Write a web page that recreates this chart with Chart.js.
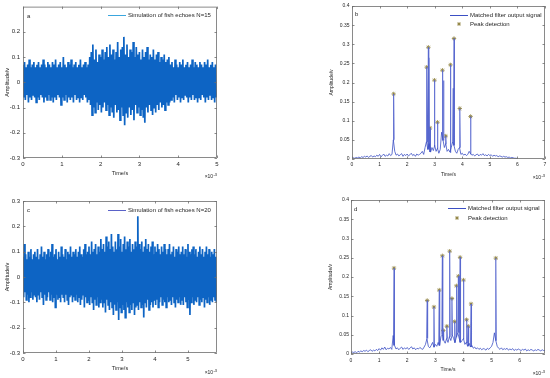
<!DOCTYPE html>
<html>
<head>
<meta charset="utf-8">
<script src="https://cdn.jsdelivr.net/npm/chart.js@4.4.0/dist/chart.umd.min.js"></script>
<style>
html, body { margin: 0; padding: 0; background: #fff; }
#wrap { position: relative; width: 550px; height: 378px; overflow: hidden; }
canvas { position: absolute; }
</style>
</head>
<body>
<div id="wrap">
  <canvas id="pa" style="left:0;top:0;width:275px;height:185px" width="275" height="185"></canvas>
  <canvas id="pb" style="left:275px;top:0;width:275px;height:185px" width="275" height="185"></canvas>
  <canvas id="pc" style="left:0;top:185px;width:275px;height:193px" width="275" height="193"></canvas>
  <canvas id="pd" style="left:275px;top:185px;width:275px;height:193px" width="275" height="193"></canvas>
</div>
<script>
// time axis in ms (shown as x10^-3 s)

// panel a: fish echoes N=15, upper / lower swing of each 0.04 ms sample pair
const stepA = 0.04;
const upperA = [
  0.07,0.08,0.06,0.07,0.09,0.06,0.07,0.08,0.06,0.07,
  0.08,0.06,0.07,0.09,0.07,0.06,0.08,0.07,0.06,0.08,
  0.07,0.09,0.06,0.07,0.08,0.06,0.10,0.07,0.06,0.08,
  0.07,0.09,0.06,0.07,0.08,0.06,0.07,0.09,0.06,0.07,
  0.08,0.06,0.07,
  0.10,0.12,0.15,0.09,0.13,0.08,0.11,0.10,0.13,0.09,
  0.12,0.14,0.10,0.15,0.11,0.13,0.09,0.12,0.16,0.10,
  0.13,0.14,0.18,0.11,0.15,0.10,0.13,0.12,0.16,0.10,
  0.14,0.11,0.12,0.09,0.13,0.10,0.12,0.14,0.09,0.11,
  0.10,0.13,0.09,0.11,0.12,0.08,0.10,0.09,0.11,0.08,
  0.09,0.10,
  0.07,0.08,0.06,0.09,0.07,0.06,0.08,0.07,0.09,0.06,
  0.07,0.08,0.06,0.07,0.09,0.06,0.08,0.07,0.06,0.08,
  0.07,0.06,0.08,0.07,0.09,0.06,0.07,0.08,0.06,0.07
];
const lowerA = [
  -0.06,-0.07,-0.05,-0.08,-0.06,-0.07,-0.05,-0.06,-0.08,-0.06,
  -0.07,-0.05,-0.06,-0.08,-0.06,-0.07,-0.05,-0.07,-0.06,-0.08,
  -0.06,-0.07,-0.05,-0.06,-0.09,-0.06,-0.07,-0.05,-0.08,-0.06,
  -0.07,-0.06,-0.08,-0.05,-0.07,-0.06,-0.08,-0.06,-0.07,-0.05,
  -0.06,-0.08,-0.07,
  -0.09,-0.13,-0.10,-0.12,-0.08,-0.11,-0.09,-0.12,-0.10,-0.08,
  -0.11,-0.09,-0.13,-0.10,-0.12,-0.14,-0.09,-0.12,-0.11,-0.15,
  -0.10,-0.13,-0.17,-0.12,-0.14,-0.10,-0.13,-0.11,-0.15,-0.09,
  -0.12,-0.10,-0.13,-0.11,-0.14,-0.16,-0.10,-0.12,-0.09,-0.11,
  -0.13,-0.10,-0.12,-0.09,-0.11,-0.08,-0.10,-0.09,-0.11,-0.08,
  -0.09,-0.08,
  -0.07,-0.06,-0.08,-0.05,-0.07,-0.06,-0.08,-0.06,-0.07,-0.05,
  -0.06,-0.08,-0.06,-0.07,-0.05,-0.07,-0.06,-0.08,-0.06,-0.07,
  -0.05,-0.06,-0.08,-0.06,-0.07,-0.05,-0.07,-0.06,-0.08,-0.06
];

// panel c: fish echoes N=20
const stepC = 0.04;
const upperC = [
  0.08,0.13,0.09,0.07,0.10,0.08,0.11,0.07,0.09,0.10,
  0.08,0.11,0.07,0.09,0.12,0.08,0.10,0.07,0.09,0.11,
  0.08,0.10,0.13,0.08,0.09,0.11,0.07,0.10,0.08,0.12,
  0.09,0.08,0.11,0.07,0.10,0.09,0.12,0.08,0.10,0.09,
  0.11,0.08,0.10,0.12,0.09,0.08,0.11,0.13,0.09,0.10,
  0.12,0.09,0.14,0.10,0.11,0.13,0.09,0.12,0.10,0.15,
  0.11,0.13,0.10,0.16,0.12,0.14,0.11,0.17,0.12,0.10,
  0.14,0.11,0.17,0.12,0.15,0.10,0.13,0.16,0.11,0.14,
  0.12,0.15,0.10,0.13,0.11,0.14,0.12,0.24,0.13,0.11,
  0.14,0.10,0.12,0.15,0.11,0.13,0.10,0.12,0.14,0.09,
  0.12,0.10,0.13,0.11,0.09,0.12,0.10,0.13,0.11,0.09,
  0.11,0.13,0.09,0.10,0.12,0.08,0.11,0.10,0.12,0.09,
  0.10,0.12,0.09,0.11,0.08,0.13,0.10,0.09,0.11,0.12,
  0.09,0.11,0.08,0.10,0.12,0.09,0.11,0.08,0.10,0.12,
  0.09,0.11,0.08,0.10,0.09,0.11,0.08
];
const lowerC = [
  -0.08,-0.06,-0.09,-0.07,-0.10,-0.08,-0.06,-0.09,-0.07,-0.08,
  -0.10,-0.07,-0.09,-0.06,-0.08,-0.11,-0.07,-0.09,-0.08,-0.06,
  -0.09,-0.07,-0.10,-0.08,-0.12,-0.07,-0.09,-0.08,-0.10,-0.07,
  -0.08,-0.10,-0.07,-0.09,-0.11,-0.08,-0.07,-0.10,-0.08,-0.09,
  -0.07,-0.10,-0.08,-0.11,-0.09,-0.07,-0.12,-0.08,-0.10,-0.09,
  -0.11,-0.08,-0.10,-0.13,-0.09,-0.11,-0.08,-0.12,-0.10,-0.09,
  -0.12,-0.10,-0.14,-0.09,-0.11,-0.13,-0.10,-0.12,-0.15,-0.11,
  -0.13,-0.10,-0.17,-0.12,-0.14,-0.11,-0.13,-0.16,-0.10,-0.12,
  -0.14,-0.11,-0.13,-0.10,-0.15,-0.12,-0.11,-0.13,-0.10,-0.12,
  -0.11,-0.16,-0.10,-0.12,-0.09,-0.13,-0.11,-0.10,-0.12,-0.09,
  -0.11,-0.09,-0.12,-0.10,-0.08,-0.11,-0.09,-0.10,-0.12,-0.08,
  -0.10,-0.09,-0.11,-0.08,-0.10,-0.12,-0.09,-0.10,-0.08,-0.11,
  -0.09,-0.11,-0.08,-0.10,-0.12,-0.09,-0.15,-0.10,-0.08,-0.11,
  -0.09,-0.10,-0.08,-0.11,-0.09,-0.10,-0.08,-0.12,-0.09,-0.10,
  -0.08,-0.11,-0.09,-0.10,-0.08,-0.09,-0.10
];

// panel b: matched filter output (N=15), floor sampled every 0.05 ms
const stepB = 0.05;
const floorB = [
  0.002,0.003,0.002,0.004,0.003,0.005,0.003,0.006,0.004,0.007,
  0.005,0.008,0.004,0.007,0.009,0.005,0.008,0.006,0.010,0.007,
  0.012,0.006,0.009,0.013,0.007,0.010,0.008,0.014,0.009,0.012,
  0.050,0.020,0.010,0.013,0.008,0.011,0.014,0.007,0.012,0.009,
  0.013,0.008,0.011,0.015,0.009,0.012,0.007,0.013,0.010,0.012,
  0.015,0.020,0.012,0.030,0.045,0.025,0.040,0.018,0.030,0.022,
  0.035,0.020,0.028,0.015,0.025,0.070,0.050,0.030,0.040,0.020,
  0.025,0.018,0.030,0.045,0.035,0.020,0.015,0.025,0.030,0.012,
  0.015,0.010,0.013,0.009,0.012,0.020,0.014,0.010,0.012,0.008,
  0.011,0.013,0.008,0.012,0.010,0.014,0.009,0.011,0.008,0.012,
  0.009,0.011,0.007,0.010,0.008,0.009,0.006,0.008,0.007,0.005,
  0.007,0.005,0.006,0.004,0.005,0.003,0.004,0.003,0.002,0.002,
  0.001
];
const peakTimeB = [1.51, 2.71, 2.77, 2.83, 2.99, 3.10, 3.28, 3.40, 3.57, 3.70, 3.91, 4.30];
const peakAmpB  = [0.170, 0.240, 0.292, 0.081, 0.206, 0.096, 0.232, 0.060, 0.246, 0.315, 0.132, 0.111];
const sideTimeB = [2.79, 3.32, 3.67];
const sideAmpB  = [0.265, 0.205, 0.185];

// panel d: matched filter output (N=20)
const stepD = 0.05;
const floorD = [
  0.003,0.005,0.004,0.006,0.003,0.007,0.005,0.008,0.006,0.009,
  0.007,0.010,0.006,0.009,0.011,0.007,0.010,0.008,0.012,0.009,
  0.014,0.010,0.016,0.012,0.018,0.011,0.015,0.013,0.017,0.012,
  0.048,0.022,0.013,0.016,0.011,0.015,0.018,0.012,0.016,0.013,
  0.017,0.012,0.015,0.019,0.013,0.016,0.011,0.015,0.013,0.017,
  0.014,0.012,0.018,0.025,0.040,0.020,0.016,0.022,0.030,0.018,
  0.025,0.020,0.030,0.022,0.045,0.050,0.035,0.028,0.040,0.030,
  0.045,0.035,0.050,0.040,0.030,0.045,0.055,0.040,0.030,0.035,
  0.040,0.025,0.030,0.020,0.028,0.018,0.022,0.015,0.018,0.013,
  0.016,0.012,0.015,0.011,0.014,0.013,0.010,0.015,0.012,0.016,
  0.020,0.030,0.055,0.035,0.020,0.015,0.012,0.016,0.011,0.014,
  0.012,0.015,0.010,0.013,0.011,0.014,0.009,0.012,0.010,0.013,
  0.011,0.009,0.012,0.010,0.013,0.008,0.011,0.009,0.012,0.010,
  0.008,0.011,0.009,0.012,0.010,0.008,0.011,0.009,0.009
];
const peakTimeD = [1.53, 2.71, 2.95, 3.14, 3.25, 3.28, 3.41, 3.51, 3.59, 3.69, 3.75, 3.82, 3.88, 4.00, 4.11, 4.17, 4.27, 5.15];
const peakAmpD  = [0.223, 0.139, 0.122, 0.166, 0.255, 0.061, 0.072, 0.267, 0.144, 0.084, 0.177, 0.202, 0.251, 0.192, 0.089, 0.072, 0.130, 0.249];

// tick labels
const xTicksA = [0, 1, 2, 3, 4, 5];
const yTicksA = [-0.3, -0.2, -0.1, 0, 0.1, 0.2];
const xTicksB = [0, 1, 2, 3, 4, 5, 6, 7];
const yTicksB = [0, 0.05, 0.1, 0.15, 0.2, 0.25, 0.3, 0.35, 0.4];
const xTicksC = [0, 1, 2, 3, 4, 5];
const yTicksC = [-0.3, -0.2, -0.1, 0, 0.1, 0.2, 0.3];
const xTicksD = [0, 1, 2, 3, 4, 5, 6];
const yTicksD = [0, 0.05, 0.1, 0.15, 0.2, 0.25, 0.3, 0.35, 0.4];

const FONT = '"Liberation Sans", Arial, sans-serif';
const AXIS = '#6e6e6e';
const TEXT = '#262626';
const ECHO = '#0d64c4';
const MF = '#3b4fc4';
const STEM = '#5868cf';
const STAR = '#8d7f3a';

// alternate each sample's positive and negative swing
const zigzag = (step, upper, lower) => {
    const pts = [];
    upper.forEach((u, i) => {
        pts.push({ x: i * step, y: u });
        pts.push({ x: i * step + step / 2, y: lower[i] });
    });
    return pts;
};

const floorLine = (step, floor) => floor.map((v, i) => ({ x: i * step, y: v }));

// each peak as a thin spike standing on the floor value at that time
const spikes = (times, amps, step, floor) => {
    const pts = [];
    times.forEach((t, i) => {
        const base = floor[Math.round(t / step)];
        pts.push({ x: t - 0.015, y: base }, { x: t, y: amps[i] }, { x: t + 0.015, y: base }, { x: t + 0.015, y: null });
    });
    return pts;
};

// box, inward ticks, panel letter, legend and exponent label
const decor = {
    id: 'decor',
    afterDatasetsDraw(chart, args, o) {
        const { ctx, chartArea: a, scales: { x, y } } = chart;
        ctx.save();
        ctx.strokeStyle = AXIS;
        ctx.lineWidth = 0.8;
        ctx.strokeRect(a.left + 0.5, a.top + 0.5, a.right - a.left - 1, a.bottom - a.top - 1);
        ctx.beginPath();
        x.ticks.forEach(t => {
            const px = Math.round(x.getPixelForValue(t.value)) + 0.5;
            ctx.moveTo(px, a.bottom); ctx.lineTo(px, a.bottom - 2.5);
            ctx.moveTo(px, a.top); ctx.lineTo(px, a.top + 2.5);
        });
        y.ticks.forEach(t => {
            const py = Math.round(y.getPixelForValue(t.value)) + 0.5;
            ctx.moveTo(a.left, py); ctx.lineTo(a.left + 2.5, py);
            ctx.moveTo(a.right, py); ctx.lineTo(a.right - 2.5, py);
        });
        ctx.stroke();

        ctx.fillStyle = TEXT;
        ctx.textBaseline = 'middle';
        ctx.font = `6px ${FONT}`;
        ctx.textAlign = 'left';
        ctx.fillText(o.letter, o.letterX, o.letterY);

        // legend
        let ly = o.legY;
        chart.data.datasets.forEach(ds => {
            if (!ds.label) return;
            if (ds.showLine === false) {
                const cx = o.legX + 9, r = 2;
                ctx.strokeStyle = ds.borderColor;
                ctx.lineWidth = 0.8;
                ctx.beginPath();
                for (let k = 0; k < 4; k++) {
                    const ang = k * Math.PI / 4;
                    ctx.moveTo(cx - r * Math.cos(ang), ly - r * Math.sin(ang));
                    ctx.lineTo(cx + r * Math.cos(ang), ly + r * Math.sin(ang));
                }
                ctx.stroke();
            } else {
                ctx.strokeStyle = ds.legendColor || ds.borderColor;
                ctx.lineWidth = 1;
                ctx.beginPath();
                ctx.moveTo(o.legX, ly + 0.5); ctx.lineTo(o.legX + 18, ly + 0.5);
                ctx.stroke();
            }
            ctx.fillStyle = TEXT;
            ctx.font = `6px ${FONT}`;
            ctx.fillText(ds.label, o.legX + 20, ly);
            ly += o.legRow;
        });

        // x10^-3
        ctx.fillStyle = TEXT;
        ctx.font = `4px ${FONT}`;
        const supW = ctx.measureText('-3').width;
        ctx.textAlign = 'right';
        ctx.fillText('-3', a.right, o.expY - 2);
        ctx.font = `5px ${FONT}`;
        ctx.fillText('\u00d710', a.right - supW - 0.3, o.expY);
        ctx.restore();
    }
};

const makePanel = (id, p) => {
    const fmt = v => String(Math.round(v * 1000) / 1000);
    new Chart(document.getElementById(id), {
        type: 'line',
        data: { datasets: p.datasets },
        options: {
            responsive: false,
            animation: false,
            devicePixelRatio: 1,
            layout: { padding: p.pad },
            plugins: { legend: { display: false }, tooltip: { enabled: false }, decor: p.decor },
            elements: { point: { radius: 0 }, line: { tension: 0 } },
            scales: {
                x: {
                    type: 'linear', min: 0, max: p.xMax,
                    afterBuildTicks: s => { s.ticks = p.xTicks.map(v => ({ value: v })); },
                    afterFit: s => { s.height = p.xAxisH; },
                    grid: { display: false, drawTicks: false },
                    border: { display: false },
                    ticks: { autoSkip: false, maxRotation: 0, padding: p.xPad, color: TEXT, font: { family: FONT, size: p.tickSize }, callback: fmt },
                    title: { display: true, text: 'Time/s', color: TEXT, font: { family: FONT, size: p.titleSize }, padding: { top: 0, bottom: p.xTitlePad } }
                },
                y: {
                    type: 'linear', min: p.yMin, max: p.yMax,
                    afterBuildTicks: s => { s.ticks = p.yTicks.map(v => ({ value: v })); },
                    afterFit: s => { s.width = p.yAxisW; },
                    grid: { display: false, drawTicks: false },
                    border: { display: false },
                    ticks: { autoSkip: false, padding: p.yPad, color: TEXT, font: { family: FONT, size: p.tickSize }, callback: fmt },
                    title: { display: true, text: 'Amplitude/v', color: TEXT, font: { family: FONT, size: p.titleSize }, padding: { top: p.yTitlePad, bottom: 0 } }
                }
            }
        },
        plugins: [decor]
    });
};

const echoSet = (label, pts, legendColor) => ({ label, legendColor, data: pts, parsing: false, borderColor: ECHO, borderWidth: 1.7, pointRadius: 0 });
const mfSets = (floor, step, times, amps, sideT, sideA) => [
    { label: 'Matched filter output signal', data: floorLine(step, floor), borderColor: MF, borderWidth: 0.8, pointRadius: 0 },
    { data: spikes(sideT, sideA, step, floor), borderColor: STEM, borderWidth: 1.1, pointRadius: 0, spanGaps: false },
    { data: spikes(times, amps, step, floor), borderColor: STEM, borderWidth: 1.1, pointRadius: 0, spanGaps: false },
    { label: 'Peak detection', data: times.map((t, i) => ({ x: t, y: amps[i] })), showLine: false,
      pointStyle: 'star', pointRadius: 2.2, borderColor: STAR, borderWidth: 0.8, backgroundColor: STAR }
];

makePanel('pa', {
    pad: { left: 0, top: 5, right: 58, bottom: 0 }, yAxisW: 23, xAxisH: 27,
    xMax: 5, yMin: -0.3, yMax: 0.3, xTicks: xTicksA, yTicks: yTicksA,
    tickSize: 6, titleSize: 5.5, xPad: 3, yPad: 3, xTitlePad: 8, yTitlePad: 3.7,
    decor: { letter: 'a', letterX: 27, letterY: 16, legX: 108, legY: 15, legRow: 9, expY: 177 },
    datasets: [echoSet('Simulation of fish echoes N=15', zigzag(stepA, upperA, lowerA), '#3aa6de')]
});
makePanel('pb', {
    pad: { left: 50, top: 6, right: 5, bottom: 0 }, yAxisW: 27, xAxisH: 26,
    xMax: 7, yMin: 0, yMax: 0.4, xTicks: xTicksB, yTicks: yTicksB,
    tickSize: 5, titleSize: 5, xPad: 3, yPad: 2.5, xTitlePad: 7.5, yTitlePad: 4,
    decor: { letter: 'b', letterX: 80, letterY: 14, legX: 175, legY: 15, legRow: 9, expY: 178 },
    datasets: mfSets(floorB, stepB, peakTimeB, peakAmpB, sideTimeB, sideAmpB)
});
makePanel('pc', {
    pad: { left: 0, top: 16, right: 58, bottom: 0 }, yAxisW: 23, xAxisH: 25,
    xMax: 5.88, yMin: -0.3, yMax: 0.3, xTicks: xTicksC, yTicks: yTicksC,
    tickSize: 6, titleSize: 5.5, xPad: 3, yPad: 3, xTitlePad: 6.5, yTitlePad: 3.7,
    decor: { letter: 'c', letterX: 27, letterY: 25, legX: 108, legY: 25, legRow: 9, expY: 188 },
    datasets: [echoSet('Simulation of fish echoes N=20', zigzag(stepC, upperC, lowerC), '#5a62c8')]
});
makePanel('pd', {
    pad: { left: 49, top: 15, right: 5, bottom: 0 }, yAxisW: 27, xAxisH: 24,
    xMax: 6.9, yMin: 0, yMax: 0.4, xTicks: xTicksD, yTicks: yTicksD,
    tickSize: 5, titleSize: 5, xPad: 4, yPad: 2, xTitlePad: 5.5, yTitlePad: 4,
    decor: { letter: 'd', letterX: 79, letterY: 24, legX: 173, legY: 23, legRow: 10, expY: 189 },
    datasets: mfSets(floorD, stepD, peakTimeD, peakAmpD, [], [])
});
</script>
</body>
</html>
